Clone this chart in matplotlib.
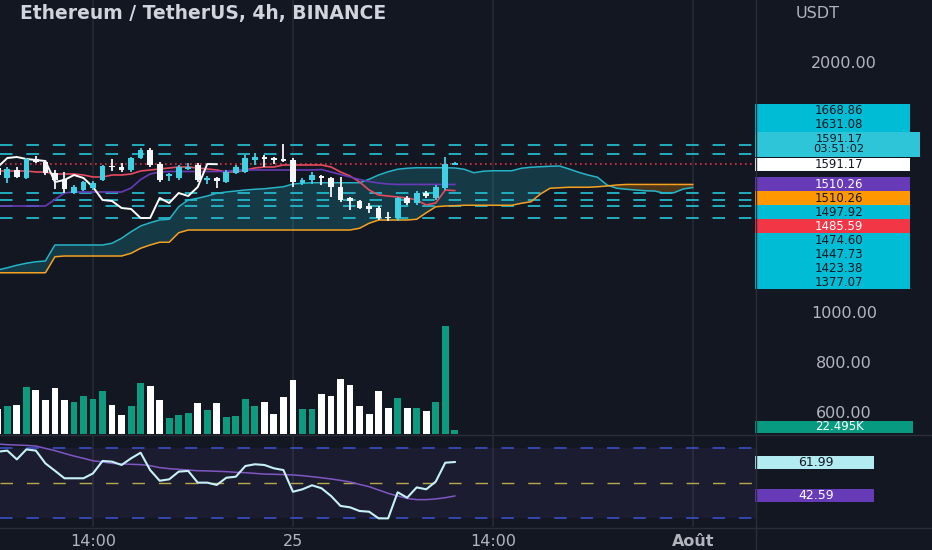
import numpy as np
import matplotlib.pyplot as plt
from matplotlib.patches import Rectangle
from matplotlib.ticker import FormatStrFormatter

plt.rcParams['font.family'] = ['DejaVu Sans']
plt.rcParams['lines.scale_dashes'] = False

W, H = 932, 550
BG = '#131722'
GRID = '#262a35'
TXT = '#b2b5be'
DARK = '#131722'

title = 'Ethereum / TetherUS, 4h, BINANCE'
currency = 'USDT'

# 4h candles
opens = [1576, 1536, 1568, 1536, 1612, 1600, 1556, 1532, 1478, 1488,
         1496, 1528, 1586, 1580, 1568, 1616, 1648, 1592, 1544, 1536,
         1572, 1588, 1528, 1536, 1520, 1556, 1560, 1608, 1620, 1616,
         1612, 1608, 1516, 1528, 1544, 1536, 1500, 1456, 1444, 1424,
         1416, 1380, 1376, 1456, 1436, 1476, 1456, 1496, 1590]
highs = [1588, 1580, 1580, 1616, 1624, 1604, 1568, 1560, 1508, 1524,
         1524, 1588, 1612, 1596, 1620, 1656, 1656, 1600, 1556, 1588,
         1596, 1596, 1544, 1540, 1568, 1588, 1628, 1636, 1628, 1620,
         1672, 1616, 1536, 1560, 1548, 1540, 1540, 1460, 1448, 1436,
         1424, 1400, 1460, 1464, 1484, 1484, 1508, 1620, 1600]
lows = [1536, 1516, 1536, 1532, 1596, 1548, 1492, 1476, 1472, 1484,
        1488, 1524, 1564, 1560, 1560, 1612, 1580, 1520, 1524, 1528,
        1568, 1520, 1512, 1496, 1516, 1552, 1556, 1588, 1580, 1592,
        1600, 1500, 1508, 1512, 1508, 1460, 1440, 1408, 1412, 1396,
        1368, 1364, 1364, 1428, 1428, 1456, 1448, 1488, 1588]
closes = [1548, 1572, 1540, 1612, 1600, 1556, 1528, 1492, 1500, 1520,
          1516, 1584, 1580, 1568, 1616, 1648, 1588, 1528, 1552, 1580,
          1580, 1528, 1536, 1524, 1560, 1580, 1616, 1620, 1612, 1608,
          1604, 1520, 1528, 1548, 1536, 1500, 1448, 1444, 1416, 1412,
          1376, 1376, 1456, 1436, 1476, 1464, 1500, 1592, 1591.17]
volumes_k = [125, 140, 145, 235, 220, 170, 230, 170, 160, 190,
             175, 215, 145, 95, 140, 255, 240, 170, 80, 95,
             105, 155, 120, 155, 85, 90, 175, 140, 160, 100,
             185, 270, 125, 125, 200, 190, 275, 245, 140, 100,
             215, 130, 180, 130, 130, 115, 160, 540, 22.495]

# Ichimoku lines
tenkan = [1564, 1564, 1564, 1564, 1560, 1560, 1552, 1552, 1552, 1548,
          1540, 1540, 1548, 1548, 1552, 1564, 1568, 1572, 1576, 1580,
          1580, 1576, 1572, 1568, 1560, 1560, 1568, 1576, 1580, 1580,
          1588, 1588, 1588, 1588, 1588, 1580, 1560, 1544, 1520, 1488,
          1468, 1464, 1460, 1456, 1448, 1428, 1436, 1488, 1485.59]
kijun = [1424, 1424, 1424, 1424, 1424, 1424, 1450, 1476, 1480, 1480,
         1480, 1480, 1480, 1480, 1496, 1530, 1552, 1560, 1562, 1562,
         1562, 1562, 1562, 1562, 1562, 1568, 1568, 1568, 1568, 1568,
         1568, 1568, 1568, 1568, 1570, 1560, 1550, 1540, 1530, 1522,
         1516, 1512, 1510.26, 1510.26, 1510.26, 1510.26, 1510.26, 1510.26, 1510.26]
span_a = [1168, 1177, 1187, 1195, 1201, 1204, 1268, 1268, 1268, 1268,
          1268, 1268, 1275, 1295, 1321, 1344, 1357, 1368, 1371, 1421,
          1448, 1455, 1464, 1475, 1480, 1484, 1488, 1491, 1493, 1497,
          1501, 1512, 1515, 1517, 1517, 1517, 1517, 1517, 1517, 1531,
          1548, 1561, 1571, 1575, 1577, 1577, 1577, 1577, 1576, 1571,
          1557, 1563, 1565, 1565, 1565, 1575, 1579, 1581, 1583, 1584,
          1572, 1559, 1548, 1539, 1508, 1495, 1491, 1488, 1485, 1484,
          1475, 1477, 1492, 1497.92]
span_b = [1157, 1157, 1157, 1157, 1157, 1157, 1221, 1224, 1224, 1224,
          1224, 1224, 1224, 1224, 1235, 1255, 1268, 1279, 1279, 1317,
          1328, 1328, 1328, 1328, 1328, 1328, 1328, 1328, 1328, 1328,
          1328, 1328, 1328, 1328, 1328, 1328, 1328, 1328, 1335, 1355,
          1368, 1368, 1368, 1368, 1371, 1397, 1421, 1424, 1425, 1427,
          1427, 1427, 1427, 1427, 1427, 1435, 1441, 1472, 1495, 1497,
          1499, 1499, 1499, 1501, 1504, 1508, 1510.26, 1510.26, 1510.26, 1510.26,
          1510.26, 1510.26, 1510.26, 1510.26]
displacement = 25

# RSI pane
rsi = [67.9, 68.5, 63.5, 69.2, 68.5, 61.2, 57.0, 52.7, 52.7, 52.7,
       55.5, 62.6, 62.2, 60.3, 64.1, 67.3, 57.4, 51.3, 52.1, 56.5,
       56.9, 50.2, 50.2, 48.9, 53.0, 53.6, 59.7, 60.7, 60.3, 58.4,
       57.4, 45.0, 46.4, 48.7, 47.0, 42.6, 36.9, 36.1, 34.0, 33.6,
       29.8, 29.8, 44.7, 41.6, 47.5, 46.4, 50.8, 61.6, 61.99]
rsi_ma = [72.3, 71.9, 71.7, 71.5, 71.1, 69.8, 68.5, 66.9, 65.4, 64.1,
          62.7, 62.0, 61.2, 60.9, 60.7, 60.5, 59.9, 58.8, 58.2, 57.8,
          57.4, 57.0, 56.9, 56.7, 56.5, 56.1, 55.9, 55.5, 55.1, 55.0,
          54.8, 54.6, 54.2, 53.6, 53.0, 52.3, 51.5, 50.6, 49.2, 47.9,
          46.0, 44.1, 42.6, 41.2, 40.5, 40.5, 40.9, 41.6, 42.59]

levels = [1668.86, 1631.08, 1474.60, 1447.73, 1423.38, 1377.07]
countdown = '03:51:02'
price_ticks = [600, 800, 1000, 2000]
time_ticks = [10, 31, 52, 73]
time_labels = ['14:00', '25', '14:00', 'Août']


def frac(x0, y0, x1, y1):
    # pixel box (from top-left) -> figure fraction
    return [x0 / W, 1 - y1 / H, (x1 - x0) / W, (y1 - y0) / H]


fig = plt.figure(figsize=(W / 100, H / 100), dpi=100, facecolor=BG)
PANE_R = 756
ax = fig.add_axes(frac(0, 0, PANE_R, 434), facecolor=BG)
axv = ax.twinx()
ax_rsi = fig.add_axes(frac(0, 435, PANE_R, 527), facecolor=BG, sharex=ax)
ov = fig.add_axes([0, 0, 1, 1], zorder=10)
ov.patch.set_alpha(0)

ax.set_xlim(0.23, 79.64)
ax.set_ylim(512, 2248)
axv.set_ylim(0, 2170)
ax_rsi.set_ylim(24.86, 77.43)

idx = np.arange(len(closes))
o, hi, lo, c = map(np.array, (opens, highs, lows, closes))
up = c >= o

# grid
for t in time_ticks:
    ax.axvline(t, color=GRID, lw=1.2, zorder=0)
    ax_rsi.axvline(t, color=GRID, lw=1.2, zorder=0)

# cloud
kx = np.arange(len(span_a))
sa, sb = np.array(span_a), np.array(span_b)
ax.fill_between(kx, sa, sb, where=sa >= sb, interpolate=True, color='#26c6da', alpha=0.2, lw=0, zorder=1)
ax.fill_between(kx, sa, sb, where=sa < sb, interpolate=True, color='#ff9800', alpha=0.25, lw=0, zorder=1)
ax.plot(kx, sa, color='#26b5c8', lw=1.1, zorder=3)
ax.plot(kx, sb, color='#f5a020', lw=1.1, zorder=3)

# level lines + last price line
for lv in levels:
    ax.axhline(lv, color='#22b8cc', lw=1.3, ls=(0, (9, 10)), zorder=2)
ax.axhline(closes[-1], color='#f23645', lw=1.1, ls=(0, (1.2, 2.4)), zorder=2)

ax.plot(idx, tenkan, color='#e84a5f', lw=1.2, zorder=4)
ax.plot(idx, kijun, color='#673ab7', lw=1.2, zorder=4)
ax.plot(idx - displacement, closes, color='white', lw=1.4, zorder=4)

# candles
col = np.where(up, '#3fd0e4', '#f4f6fa')
ax.vlines(idx, lo, hi, colors=col, lw=1.3, zorder=5)
ax.bar(idx, np.maximum(np.abs(c - o), 6), bottom=np.minimum(o, c), width=0.6, color=col, zorder=6)

# volume
axv.bar(idx, volumes_k, width=0.72, color=np.where(up, '#0e9a7f', '#ffffff'), zorder=2)

# RSI
ax_rsi.axhspan(30, 70, color='#7e57c2', alpha=0.09, lw=0)
ax_rsi.axhline(70, color='#3d52d5', lw=1.1, ls=(0, (9, 10)))
ax_rsi.axhline(50, color='#b7a84a', lw=1.0, ls=(0, (9, 10)))
ax_rsi.axhline(30, color='#3d52d5', lw=1.1, ls=(0, (9, 10)))
ax_rsi.plot(idx, rsi_ma, color='#7e57c2', lw=1.1)
ax_rsi.plot(idx, rsi, color='#c5f1f7', lw=1.5)

# axes cosmetics
for a in (ax, axv, ax_rsi):
    for s in a.spines.values():
        s.set_visible(False)
axv.set_yticks([])
ax_rsi.set_yticks([])
ax.tick_params(axis='x', bottom=False, labelbottom=False)
ax.set_yticks(price_ticks)
ax.yaxis.set_major_formatter(FormatStrFormatter('%.2f'))
ax.tick_params(axis='y', left=False, right=False, labelleft=False, labelright=True,
               labelsize=11.5, labelcolor=TXT, pad=60)
for t in ax.get_yticklabels():
    t.set_horizontalalignment('center')
ax_rsi.set_xticks(time_ticks)
ax_rsi.set_xticklabels(time_labels)
ax_rsi.tick_params(axis='x', length=0, pad=5, labelsize=11.5, labelcolor=TXT)
ax_rsi.get_xticklabels()[-1].set_fontweight('bold')

# overlay in pixel coords
ov.set_xlim(0, W)
ov.set_ylim(H, 0)
ov.axis('off')
ov.plot([0, W], [434.5, 434.5], color='#2a2e39', lw=1)
ov.plot([0, W], [527.5, 527.5], color='#2a2e39', lw=1)
ov.plot([755.5, 755.5], [0, H], color='#2a2e39', lw=1)
ov.text(20, 14, title, fontsize=13.5, fontweight='bold', color='#d1d4dc', va='center', ha='left')
ov.text(818, 14, currency, fontsize=11.5, color=TXT, va='center', ha='center')


def px_y(axis, v):
    return H - axis.transData.transform((0, v))[1]


CYAN = '#00bcd4'
labels = [
    (levels[0], f'{levels[0]:.2f}', CYAN, DARK, 14, 910),
    (levels[1], f'{levels[1]:.2f}', CYAN, DARK, 14, 910),
    (closes[-1], f'{closes[-1]:.2f}\n{countdown}', '#2ec5d8', DARK, 25, 920),
    (closes[-1], f'{closes[-1]:.2f}', '#ffffff', DARK, 13, 910),
    (kijun[-1], f'{kijun[-1]:.2f}', '#673ab7', '#ffffff', 14, 910),
    (span_b[-1], f'{span_b[-1]:.2f}', '#ff9800', DARK, 14, 910),
    (span_a[-1], f'{span_a[-1]:.2f}', CYAN, DARK, 14, 910),
    (tenkan[-1], f'{tenkan[-1]:.2f}', '#f23645', '#ffffff', 14, 910),
    (levels[2], f'{levels[2]:.2f}', CYAN, DARK, 14, 910),
    (levels[3], f'{levels[3]:.2f}', CYAN, DARK, 14, 910),
    (levels[4], f'{levels[4]:.2f}', CYAN, DARK, 14, 910),
    (levels[5], f'{levels[5]:.2f}', CYAN, DARK, 14, 910),
]
anchor = 3
tops = [0.0] * len(labels)
tops[anchor] = px_y(ax, labels[anchor][0]) - labels[anchor][4] / 2
edge = tops[anchor] - 1
for i in range(anchor - 1, -1, -1):
    hh = labels[i][4]
    bottom = min(px_y(ax, labels[i][0]) + hh / 2, edge)
    tops[i] = bottom - hh
    edge = tops[i]
edge = tops[anchor] + labels[anchor][4]
for i in range(anchor + 1, len(labels)):
    hh = labels[i][4]
    tops[i] = max(px_y(ax, labels[i][0]) - hh / 2, edge)
    edge = tops[i] + hh

for (val, txt, fc, tc, hh, x1), top in zip(labels, tops):
    ov.add_patch(Rectangle((755, top), x1 - 755, hh, facecolor=fc, edgecolor='none'))
    ov.text(839, top + hh / 2, txt, fontsize=8.2 if '\n' in txt else 8.5, color=tc,
            ha='center', va='center', linespacing=1.0)

# volume label
vy = px_y(axv, volumes_k[-1])
vb = min(vy + 6, 433)
ov.add_patch(Rectangle((755, vb - 12), 158, 12, facecolor='#089981', edgecolor='none'))
ov.text(839, vb - 6, f'{volumes_k[-1]:.3f}K', fontsize=8.5, color='white', ha='center', va='center')

# RSI labels
for v, fc, tc in [(rsi[-1], '#b2ebf2', DARK), (rsi_ma[-1], '#673ab7', '#ffffff')]:
    y = px_y(ax_rsi, v)
    ov.add_patch(Rectangle((755, y - 6.5), 119, 13, facecolor=fc, edgecolor='none'))
    ov.text(816, y, f'{v:.2f}', fontsize=9, color=tc, ha='center', va='center')

fig.savefig('out.png', dpi=100, facecolor=BG)
